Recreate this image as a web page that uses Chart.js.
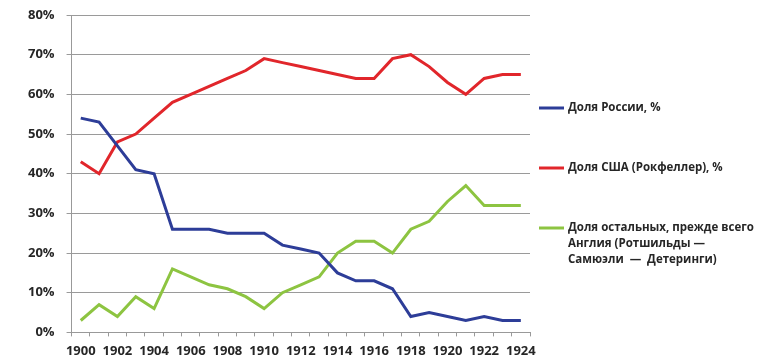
<!DOCTYPE html>
<html><head><meta charset="utf-8">
<script src="https://cdn.jsdelivr.net/npm/chart.js@4"></script>
<style>html,body{margin:0;padding:0;background:#fff}</style>
</head><body>
<canvas id="c" width="771" height="364"></canvas>
<script>
const years = ['1900','1901','1902','1903','1904','1905','1906','1907','1908','1909','1910','1911','1912','1913','1914','1915','1916','1917','1918','1919','1920','1921','1922','1923','1924'];
const russia = [54,53,47,41,40,26,26,26,25,25,25,22,21,20,15,13,13,11,4,5,4,3,4,3,3];
const usa    = [43,40,48,50,54,58,60,62,64,66,69,68,67,66,65,64,64,69,70,67,63,60,64,65,65];
const others = [3,7,4,9,6,16,14,12,11,9,6,10,12,14,20,23,23,20,26,28,33,37,32,32,32];
const seriesLabels = [
  'Доля России, %',
  'Доля США (Рокфеллер), %',
  'Доля остальных, прежде всего\nАнглия (Ротшильды —\nСамюэли  —  Детеринги)'
];
const seriesColors = ['#2d3d98', '#e1262b', '#8dc441'];
const yMin = 0, yMax = 80, yStep = 10;

const FONT = '"Open Sans", "Liberation Sans", sans-serif';

const sideLegend = {
  id: 'sideLegend',
  afterDraw(chart) {
    const ctx = chart.ctx, area = chart.chartArea;
    const step = 60, lineH = 16;
    ctx.save();
    ctx.font = 'bold 11.5px ' + FONT;
    ctx.textBaseline = 'middle';
    ctx.textAlign = 'left';
    let y = area.top + 93;
    chart.data.datasets.forEach(ds => {
      ctx.strokeStyle = ds.borderColor;
      ctx.lineWidth = 3;
      ctx.beginPath();
      ctx.moveTo(area.right + 9, y);
      ctx.lineTo(area.right + 34, y);
      ctx.stroke();
      ctx.fillStyle = '#262626';
      ds.label.split('\n').forEach((t, i) => ctx.fillText(t, area.right + 38, y + i * lineH));
      y += step;
    });
    ctx.restore();
  }
};

new Chart(document.getElementById('c'), {
  type: 'line',
  data: {
    labels: years,
    datasets: [russia, usa, others].map((d, i) => ({
      label: seriesLabels[i],
      data: d,
      borderColor: seriesColors[i],
      backgroundColor: seriesColors[i],
      borderWidth: 3,
      pointRadius: 0,
      tension: 0,
      fill: false
    }))
  },
  options: {
    responsive: false,
    animation: false,
    devicePixelRatio: 1,
    layout: { padding: { left: 16, right: 241, top: 15, bottom: -2 } },
    plugins: { legend: { display: false }, tooltip: { enabled: false } },
    font: { family: FONT },
    scales: {
      x: {
        offset: true,
        grid: { offset: true, drawOnChartArea: false, drawTicks: true, tickLength: 4, color: '#999' },
        border: { color: '#999', width: 1 },
        ticks: {
          autoSkip: false, maxRotation: 0, padding: 7,
          color: '#262626',
          font: { family: FONT, size: 13, weight: 'bold' },
          callback: (v, i) => (i % 2 === 0 ? years[i] : '')
        }
      },
      y: {
        min: yMin, max: yMax,
        afterFit: s => { s.paddingTop = 0; },
        grid: { color: '#9a9a9a', tickLength: 5, lineWidth: 1 },
        border: { color: '#999', width: 1 },
        ticks: {
          stepSize: yStep, padding: 12,
          color: '#262626',
          font: { family: FONT, size: 13, weight: 'bold', lineHeight: 1 },
          callback: v => v + '%'
        }
      }
    }
  },
  plugins: [sideLegend]
});
</script>
</body></html>
